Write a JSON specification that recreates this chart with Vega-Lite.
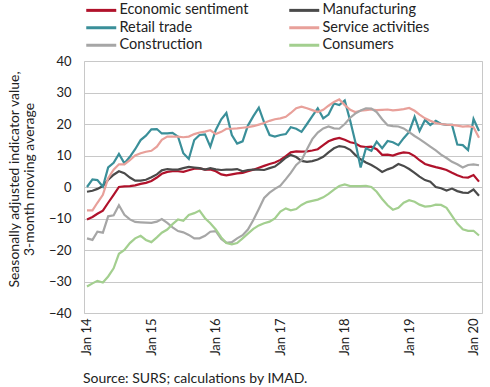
{
  "$schema": "https://vega.github.io/schema/vega-lite/v6.json",
  "width": 398,
  "height": 252,
  "autosize": {"type": "none"},
  "padding": {"left": 84, "top": 61, "right": 8, "bottom": 74},
  "background": "white",
  "config": {
    "font": "Lato",
    "view": {"stroke": "#c8c8c8", "strokeWidth": 1}
  },
  "title": {
    "text": "Source: SURS; calculations by IMAD.",
    "orient": "bottom",
    "anchor": "start",
    "frame": "group",
    "fontSize": 14,
    "fontWeight": "normal",
    "color": "#222222",
    "offset": 17,
    "dx": -1
  },
  "data": {
    "values": [
      {"d": "2014/01/01", "Economic sentiment": -10.3, "Manufacturing": -1.5, "Retail trade": 0, "Service activities": -7.4, "Construction": -16.3, "Consumers": -31.6},
      {"d": "2014/02/01", "Economic sentiment": -9.5, "Manufacturing": -1.2, "Retail trade": 2.4, "Service activities": -7.4, "Construction": -16.8, "Consumers": -30.6},
      {"d": "2014/03/01", "Economic sentiment": -8.5, "Manufacturing": -0.6, "Retail trade": 2.2, "Service activities": -5, "Construction": -14.2, "Consumers": -29.8},
      {"d": "2014/04/01", "Economic sentiment": -7.5, "Manufacturing": 0.3, "Retail trade": 0.1, "Service activities": -2.5, "Construction": -14.5, "Consumers": -30.3},
      {"d": "2014/05/01", "Economic sentiment": -5, "Manufacturing": 2.3, "Retail trade": 6.2, "Service activities": 2.8, "Construction": -9.3, "Consumers": -28.4},
      {"d": "2014/06/01", "Economic sentiment": -2.5, "Manufacturing": 3.9, "Retail trade": 7.7, "Service activities": 5.5, "Construction": -9, "Consumers": -25.8},
      {"d": "2014/07/01", "Economic sentiment": 0, "Manufacturing": 5, "Retail trade": 10.5, "Service activities": 7.2, "Construction": -5.8, "Consumers": -21.2},
      {"d": "2014/08/01", "Economic sentiment": 0.2, "Manufacturing": 4.4, "Retail trade": 7.5, "Service activities": 7.2, "Construction": -8.8, "Consumers": -20},
      {"d": "2014/09/01", "Economic sentiment": 0.3, "Manufacturing": 3, "Retail trade": 9.6, "Service activities": 8.5, "Construction": -10.3, "Consumers": -17.8},
      {"d": "2014/10/01", "Economic sentiment": 0.5, "Manufacturing": 2, "Retail trade": 12, "Service activities": 10, "Construction": -11.1, "Consumers": -16.3},
      {"d": "2014/11/01", "Economic sentiment": 1, "Manufacturing": 2, "Retail trade": 14.9, "Service activities": 10.7, "Construction": -11.2, "Consumers": -15.5},
      {"d": "2014/12/01", "Economic sentiment": 1.3, "Manufacturing": 2.3, "Retail trade": 16.3, "Service activities": 11.2, "Construction": -11.3, "Consumers": -16.8},
      {"d": "2015/01/01", "Economic sentiment": 1.9, "Manufacturing": 3.1, "Retail trade": 18.3, "Service activities": 11.5, "Construction": -11.4, "Consumers": -17.5},
      {"d": "2015/02/01", "Economic sentiment": 3, "Manufacturing": 4, "Retail trade": 18.4, "Service activities": 12.8, "Construction": -11, "Consumers": -16},
      {"d": "2015/03/01", "Economic sentiment": 4.2, "Manufacturing": 5.3, "Retail trade": 17, "Service activities": 15, "Construction": -10.2, "Consumers": -14.5},
      {"d": "2015/04/01", "Economic sentiment": 4.8, "Manufacturing": 5.7, "Retail trade": 17, "Service activities": 16, "Construction": -11.4, "Consumers": -13.5},
      {"d": "2015/05/01", "Economic sentiment": 5, "Manufacturing": 5.5, "Retail trade": 17.2, "Service activities": 16, "Construction": -12.8, "Consumers": -11.8},
      {"d": "2015/06/01", "Economic sentiment": 5, "Manufacturing": 5.5, "Retail trade": 16, "Service activities": 16, "Construction": -14, "Consumers": -10.3},
      {"d": "2015/07/01", "Economic sentiment": 4.8, "Manufacturing": 6, "Retail trade": 10.7, "Service activities": 15.8, "Construction": -14.4, "Consumers": -10.7},
      {"d": "2015/08/01", "Economic sentiment": 5.3, "Manufacturing": 6.4, "Retail trade": 8.9, "Service activities": 16, "Construction": -15.2, "Consumers": -8.9},
      {"d": "2015/09/01", "Economic sentiment": 5.8, "Manufacturing": 6.2, "Retail trade": 14.9, "Service activities": 16.8, "Construction": -16.3, "Consumers": -8.3},
      {"d": "2015/10/01", "Economic sentiment": 5.9, "Manufacturing": 6, "Retail trade": 16.5, "Service activities": 17.3, "Construction": -16.3, "Consumers": -7.5},
      {"d": "2015/11/01", "Economic sentiment": 5.5, "Manufacturing": 5.5, "Retail trade": 16.7, "Service activities": 17.6, "Construction": -15.5, "Consumers": -9.9},
      {"d": "2015/12/01", "Economic sentiment": 5.6, "Manufacturing": 6, "Retail trade": 12.8, "Service activities": 18, "Construction": -14.2, "Consumers": -11.5},
      {"d": "2016/01/01", "Economic sentiment": 5, "Manufacturing": 5.6, "Retail trade": 18.1, "Service activities": 16.8, "Construction": -14, "Consumers": -13.5},
      {"d": "2016/02/01", "Economic sentiment": 4, "Manufacturing": 5.4, "Retail trade": 21.5, "Service activities": 17.5, "Construction": -16.5, "Consumers": -16},
      {"d": "2016/03/01", "Economic sentiment": 3.7, "Manufacturing": 5.5, "Retail trade": 23.5, "Service activities": 18.5, "Construction": -17.7, "Consumers": -17.8},
      {"d": "2016/04/01", "Economic sentiment": 4, "Manufacturing": 5.5, "Retail trade": 16.5, "Service activities": 18.5, "Construction": -17.5, "Consumers": -18.2},
      {"d": "2016/05/01", "Economic sentiment": 4.3, "Manufacturing": 5.7, "Retail trade": 13.8, "Service activities": 18.6, "Construction": -16.3, "Consumers": -17.8},
      {"d": "2016/06/01", "Economic sentiment": 4.5, "Manufacturing": 5, "Retail trade": 14.5, "Service activities": 18.8, "Construction": -15.3, "Consumers": -16.3},
      {"d": "2016/07/01", "Economic sentiment": 5, "Manufacturing": 5.4, "Retail trade": 19.5, "Service activities": 19, "Construction": -13.5, "Consumers": -14.8},
      {"d": "2016/08/01", "Economic sentiment": 5.5, "Manufacturing": 5.5, "Retail trade": 22.5, "Service activities": 19.3, "Construction": -10.5, "Consumers": -13.3},
      {"d": "2016/09/01", "Economic sentiment": 6.1, "Manufacturing": 5.5, "Retail trade": 25.2, "Service activities": 19.8, "Construction": -7, "Consumers": -12.2},
      {"d": "2016/10/01", "Economic sentiment": 6.7, "Manufacturing": 5.4, "Retail trade": 20.5, "Service activities": 20.3, "Construction": -3.5, "Consumers": -11.5},
      {"d": "2016/11/01", "Economic sentiment": 7.3, "Manufacturing": 6, "Retail trade": 16.5, "Service activities": 21, "Construction": -1.8, "Consumers": -11},
      {"d": "2016/12/01", "Economic sentiment": 7.8, "Manufacturing": 6.5, "Retail trade": 16, "Service activities": 21.5, "Construction": -0.6, "Consumers": -10},
      {"d": "2017/01/01", "Economic sentiment": 8.6, "Manufacturing": 7.8, "Retail trade": 16.5, "Service activities": 21.8, "Construction": 0.4, "Consumers": -7.8},
      {"d": "2017/02/01", "Economic sentiment": 9.8, "Manufacturing": 9.3, "Retail trade": 16.8, "Service activities": 22.3, "Construction": 2.5, "Consumers": -6.8},
      {"d": "2017/03/01", "Economic sentiment": 11, "Manufacturing": 10.2, "Retail trade": 19, "Service activities": 23.5, "Construction": 4.5, "Consumers": -7.4},
      {"d": "2017/04/01", "Economic sentiment": 11.3, "Manufacturing": 9.5, "Retail trade": 18.5, "Service activities": 25, "Construction": 7, "Consumers": -7},
      {"d": "2017/05/01", "Economic sentiment": 11.2, "Manufacturing": 8.3, "Retail trade": 17.5, "Service activities": 25.5, "Construction": 8.5, "Consumers": -5.7},
      {"d": "2017/06/01", "Economic sentiment": 11.3, "Manufacturing": 8, "Retail trade": 20, "Service activities": 25, "Construction": 12, "Consumers": -4.8},
      {"d": "2017/07/01", "Economic sentiment": 11.6, "Manufacturing": 8.2, "Retail trade": 22.5, "Service activities": 24.4, "Construction": 15.2, "Consumers": -4.4},
      {"d": "2017/08/01", "Economic sentiment": 12, "Manufacturing": 8.7, "Retail trade": 25, "Service activities": 23.8, "Construction": 17.3, "Consumers": -4},
      {"d": "2017/09/01", "Economic sentiment": 13.3, "Manufacturing": 9.6, "Retail trade": 21.8, "Service activities": 24.5, "Construction": 18.6, "Consumers": -3.3},
      {"d": "2017/10/01", "Economic sentiment": 14.5, "Manufacturing": 11, "Retail trade": 23, "Service activities": 25.8, "Construction": 19.2, "Consumers": -2.2},
      {"d": "2017/11/01", "Economic sentiment": 15.2, "Manufacturing": 12.3, "Retail trade": 26.5, "Service activities": 27, "Construction": 18.6, "Consumers": -0.8},
      {"d": "2017/12/01", "Economic sentiment": 15.6, "Manufacturing": 13, "Retail trade": 26, "Service activities": 27.8, "Construction": 18.5, "Consumers": 0.3},
      {"d": "2018/01/01", "Economic sentiment": 15, "Manufacturing": 12.7, "Retail trade": 27.5, "Service activities": 26, "Construction": 20, "Consumers": 0.8},
      {"d": "2018/02/01", "Economic sentiment": 14.2, "Manufacturing": 11.8, "Retail trade": 21, "Service activities": 24.5, "Construction": 22, "Consumers": 0.3},
      {"d": "2018/03/01", "Economic sentiment": 13.9, "Manufacturing": 10.2, "Retail trade": 14.5, "Service activities": 23.8, "Construction": 23.3, "Consumers": 0.3},
      {"d": "2018/04/01", "Economic sentiment": 12.9, "Manufacturing": 8.8, "Retail trade": 6.2, "Service activities": 24.2, "Construction": 24.3, "Consumers": 0.3},
      {"d": "2018/05/01", "Economic sentiment": 12.7, "Manufacturing": 7.8, "Retail trade": 12.3, "Service activities": 24.4, "Construction": 25, "Consumers": 0.4},
      {"d": "2018/06/01", "Economic sentiment": 12.8, "Manufacturing": 7, "Retail trade": 11.5, "Service activities": 24.6, "Construction": 24.9, "Consumers": 0},
      {"d": "2018/07/01", "Economic sentiment": 12, "Manufacturing": 6, "Retail trade": 14.4, "Service activities": 24.4, "Construction": 23.8, "Consumers": -1.5},
      {"d": "2018/08/01", "Economic sentiment": 10.2, "Manufacturing": 4.8, "Retail trade": 12.3, "Service activities": 24.5, "Construction": 21.5, "Consumers": -3.8},
      {"d": "2018/09/01", "Economic sentiment": 10.3, "Manufacturing": 5.6, "Retail trade": 14.6, "Service activities": 24.6, "Construction": 19.6, "Consumers": -5.8},
      {"d": "2018/10/01", "Economic sentiment": 10, "Manufacturing": 6.2, "Retail trade": 14.2, "Service activities": 24.3, "Construction": 19.3, "Consumers": -7.2},
      {"d": "2018/11/01", "Economic sentiment": 10.6, "Manufacturing": 7.3, "Retail trade": 13.3, "Service activities": 24.5, "Construction": 19.2, "Consumers": -6.6},
      {"d": "2018/12/01", "Economic sentiment": 11, "Manufacturing": 6.7, "Retail trade": 15.5, "Service activities": 24.7, "Construction": 18.6, "Consumers": -5},
      {"d": "2019/01/01", "Economic sentiment": 10.8, "Manufacturing": 5.7, "Retail trade": 17.5, "Service activities": 25.1, "Construction": 17.4, "Consumers": -4.2},
      {"d": "2019/02/01", "Economic sentiment": 9.8, "Manufacturing": 4.5, "Retail trade": 22.3, "Service activities": 24.2, "Construction": 16.2, "Consumers": -4.7},
      {"d": "2019/03/01", "Economic sentiment": 8.5, "Manufacturing": 3.3, "Retail trade": 17.8, "Service activities": 23, "Construction": 15.2, "Consumers": -5.6},
      {"d": "2019/04/01", "Economic sentiment": 7.3, "Manufacturing": 2.2, "Retail trade": 21.3, "Service activities": 21.8, "Construction": 14, "Consumers": -6.2},
      {"d": "2019/05/01", "Economic sentiment": 6.8, "Manufacturing": 1.7, "Retail trade": 19.7, "Service activities": 21, "Construction": 12.8, "Consumers": -6.1},
      {"d": "2019/06/01", "Economic sentiment": 6.3, "Manufacturing": 0, "Retail trade": 21, "Service activities": 20.3, "Construction": 11.6, "Consumers": -5.6},
      {"d": "2019/07/01", "Economic sentiment": 5.9, "Manufacturing": -0.4, "Retail trade": 20, "Service activities": 20, "Construction": 10.3, "Consumers": -5.7},
      {"d": "2019/08/01", "Economic sentiment": 5.4, "Manufacturing": -1.1, "Retail trade": 19.7, "Service activities": 19.8, "Construction": 9.2, "Consumers": -6.6},
      {"d": "2019/09/01", "Economic sentiment": 4.5, "Manufacturing": -0.5, "Retail trade": 19.7, "Service activities": 19.7, "Construction": 8, "Consumers": -9.2},
      {"d": "2019/10/01", "Economic sentiment": 3.7, "Manufacturing": -1.3, "Retail trade": 13.5, "Service activities": 19.5, "Construction": 7.2, "Consumers": -11.6},
      {"d": "2019/11/01", "Economic sentiment": 3.1, "Manufacturing": -1.8, "Retail trade": 13.3, "Service activities": 19.2, "Construction": 6.2, "Consumers": -13.4},
      {"d": "2019/12/01", "Economic sentiment": 3, "Manufacturing": -1.9, "Retail trade": 11.7, "Service activities": 19.3, "Construction": 7, "Consumers": -13.9},
      {"d": "2020/01/01", "Economic sentiment": 3.8, "Manufacturing": -0.8, "Retail trade": 21.6, "Service activities": 19, "Construction": 7.2, "Consumers": -13.9},
      {"d": "2020/02/01", "Economic sentiment": 1.7, "Manufacturing": -2.8, "Retail trade": 17.8, "Service activities": 15.6, "Construction": 6.9, "Consumers": -15.4}
    ]
  },
  "transform": [
    {"fold": ["Economic sentiment", "Manufacturing", "Retail trade", "Service activities", "Construction", "Consumers"], "as": ["series", "value"]}
  ],
  "mark": {"type": "line", "strokeWidth": 2.2, "interpolate": "linear"},
  "encoding": {
    "x": {
      "field": "d",
      "type": "temporal",
      "scale": {"domain": [{"year": 2013, "month": 12, "date": 15}, {"year": 2020, "month": 2, "date": 18}]},
      "axis": {
        "values": [
          {"year": 2014, "month": 1, "date": 1},
          {"year": 2015, "month": 1, "date": 1},
          {"year": 2016, "month": 1, "date": 1},
          {"year": 2017, "month": 1, "date": 1},
          {"year": 2018, "month": 1, "date": 1},
          {"year": 2019, "month": 1, "date": 1},
          {"year": 2020, "month": 1, "date": 1}
        ],
        "format": "%b %y",
        "labelAngle": 270,
        "labelAlign": "right",
        "labelBaseline": "middle",
        "labelPadding": 5,
        "labelFontSize": 13,
        "labelColor": "#222222",
        "labelOverlap": false,
        "ticks": false,
        "domain": false,
        "grid": false,
        "title": null
      }
    },
    "y": {
      "field": "value",
      "type": "quantitative",
      "scale": {"domain": [-40, 40], "nice": false},
      "axis": {
        "values": [-40, -30, -20, -10, 0, 10, 20, 30, 40],
        "grid": true,
        "gridColor": "#c8c8c8",
        "gridWidth": 1,
        "domain": false,
        "ticks": false,
        "labelPadding": 13,
        "labelFontSize": 13,
        "labelColor": "#222222",
        "title": ["Seasonally adjusted indicator value,", "3-month moving average"],
        "titleFontSize": 14,
        "titleFontWeight": "normal",
        "titleColor": "#222222",
        "titleAngle": -90,
        "titleAlign": "center",
        "titleBaseline": "top",
        "titleLineHeight": 15.5,
        "titleX": -77,
        "titleY": 118
      }
    },
    "color": {
      "field": "series",
      "type": "nominal",
      "scale": {
        "domain": ["Economic sentiment", "Manufacturing", "Retail trade", "Service activities", "Construction", "Consumers"],
        "range": ["#b0122b", "#4a4a4a", "#3a8f99", "#e8a09a", "#a6a6a6", "#a3cf8f"]
      },
      "legend": {
        "title": null,
        "orient": "none",
        "direction": "horizontal",
        "legendX": 10,
        "legendY": -58,
        "columns": 2,
        "symbolType": "M-3,0H3",
        "symbolSize": 100,
        "symbolStrokeWidth": 3,
        "labelFontSize": 14.5,
        "labelColor": "#222222",
        "labelOffset": 11,
        "columnPadding": 34,
        "rowPadding": 2.5
      }
    }
  }
}
